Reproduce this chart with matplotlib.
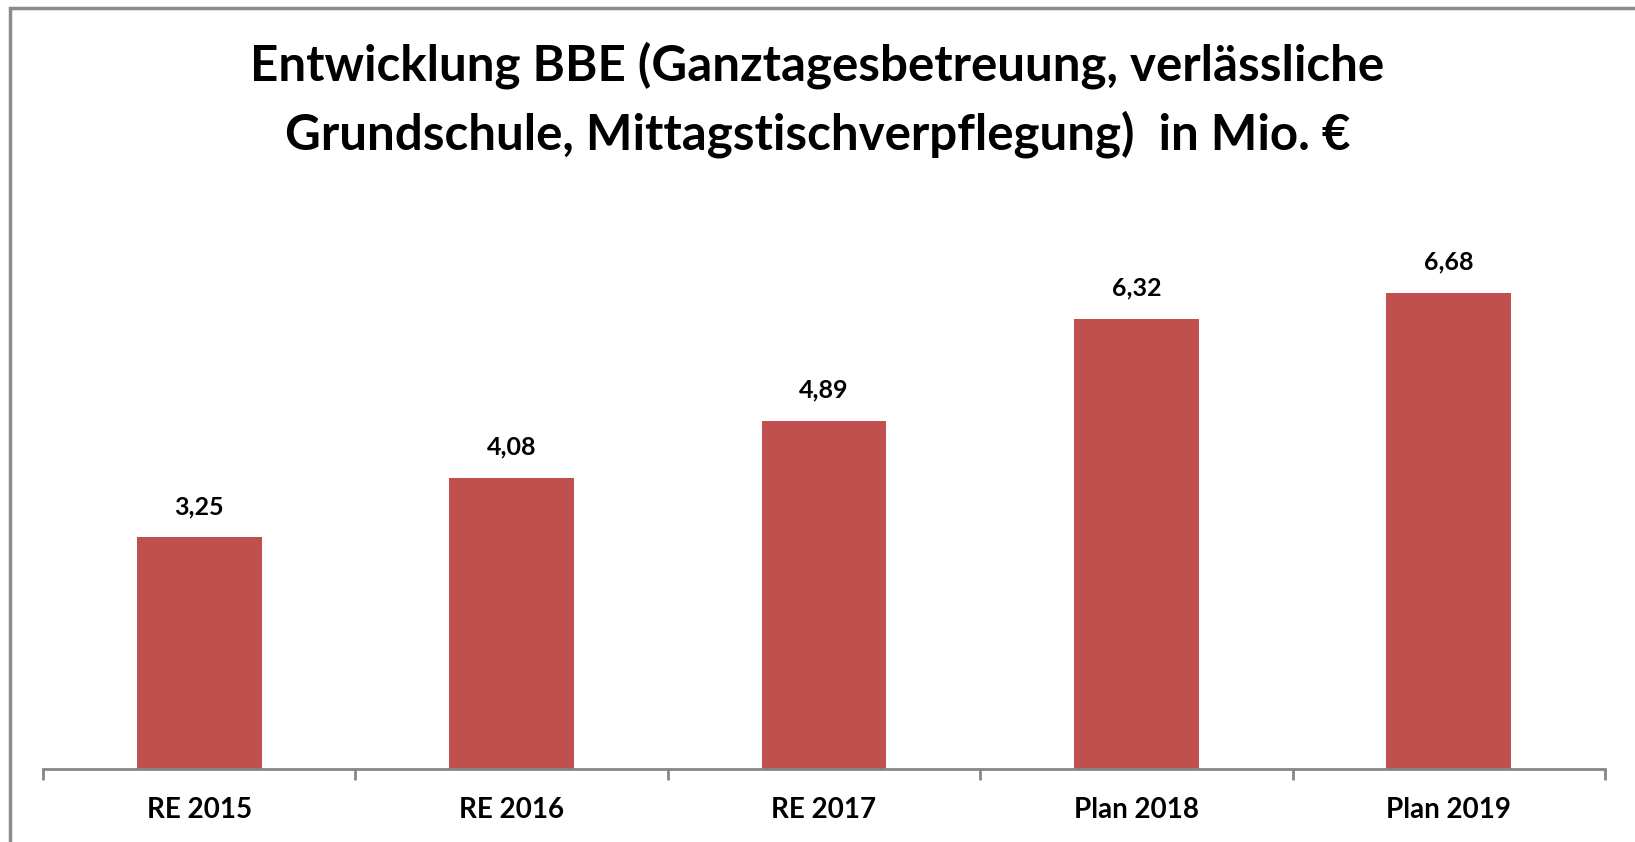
import matplotlib.pyplot as plt
from matplotlib.patches import Rectangle

# data
categories = ['RE 2015', 'RE 2016', 'RE 2017', 'Plan 2018', 'Plan 2019']
values = [3.25, 4.08, 4.89, 6.32, 6.68]
title = 'Entwicklung BBE (Ganztagesbetreuung, verlässliche\nGrundschule, Mittagstischverpflegung)  in Mio. €'

plt.rcParams['font.family'] = ['Lato', 'DejaVu Sans']

W, H = 1635, 842
fig = plt.figure(figsize=(W / 100, H / 100), dpi=100)
ax = fig.add_axes([43 / W, 1 - 769 / H, (1605 - 43) / W, (769 - 199) / H])

x = list(range(len(categories)))
bars = ax.bar(x, values, width=0.4, color='#C0504D')

for b, v in zip(bars, values):
    ax.annotate(f'{v:.2f}'.replace('.', ','), (b.get_x() + b.get_width() / 2, v),
                xytext=(0, 14), textcoords='offset points', ha='center', va='bottom',
                fontsize=18, fontweight='bold', color='black')

ax.set_xlim(-0.5, len(categories) - 0.5)
ax.set_ylim(0, 8)
ax.set_yticks([])
for s in ['top', 'right', 'left']:
    ax.spines[s].set_visible(False)
ax.spines['bottom'].set_color('#868686')
ax.spines['bottom'].set_linewidth(2)

# boundary ticks, labels centred in between
ax.set_xticks([i - 0.5 for i in range(len(categories) + 1)])
ax.set_xticklabels([])
ax.tick_params(axis='x', which='major', direction='out', length=8, width=2, color='#868686')
ax.set_xticks(x, minor=True)
ax.set_xticklabels(categories, minor=True, fontsize=20, fontweight='bold')
ax.tick_params(axis='x', which='minor', length=0, pad=20)

fig.text(0.5, 1 - 100 / H, title, ha='center', va='center', fontsize=35.5,
         fontweight='bold', linespacing=1.55)

# chart frame (only left and top edges visible in the crop)
fig.patches.append(Rectangle((10 / W, -0.1), 1.2, 1 - 8 / H + 0.1, transform=fig.transFigure,
                             fill=False, edgecolor='#8c8c8c', linewidth=2.5))

fig.savefig('out.png', dpi=100)
